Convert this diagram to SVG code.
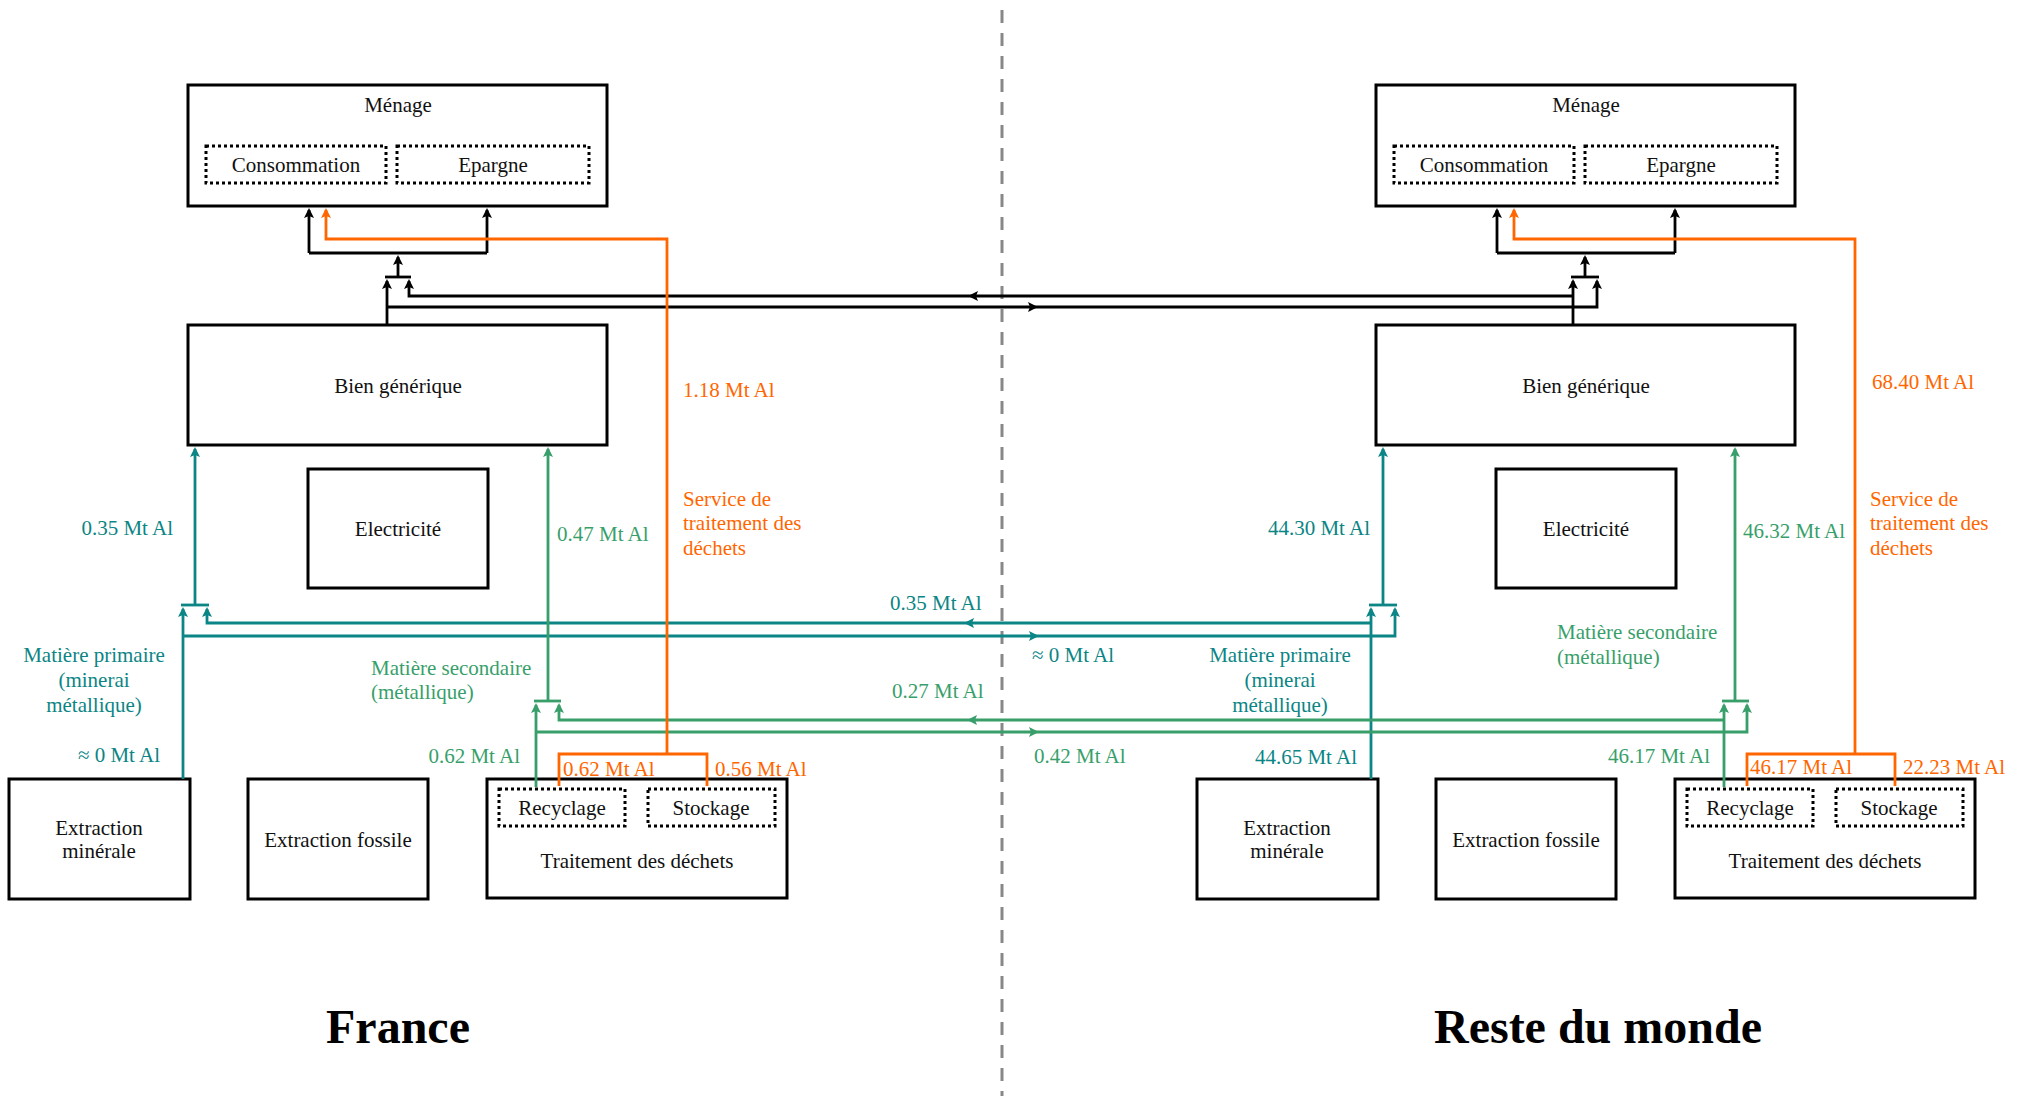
<svg xmlns="http://www.w3.org/2000/svg" xmlns:xlink="http://www.w3.org/1999/xlink" width="2026" height="1096" viewBox="0 0 2026 1096">
  <style>
    text { font-family: "Liberation Serif", "Times New Roman", serif; font-size: 21px; }
    .box { fill: #fff; stroke: #000; stroke-width: 3; }
    .sub { fill: none; stroke: #000; stroke-width: 3; stroke-dasharray: 3 3; }
    .lbl { fill: #111; text-anchor: middle; }
    .title { font-size: 48px; font-weight: bold; fill: #000; text-anchor: middle; }
    .c { fill: none; stroke-width: 2.8; stroke-linejoin: miter; }
    .cb { stroke: #000; }
    .ct { stroke: #0b8585; }
    .cg { stroke: #389f6b; }
    .co { stroke: #ff6600; }
    .tt { fill: #0b8585; }
    .tg { fill: #389f6b; }
    .to { fill: #ff6600; }
    .end { text-anchor: end; }
    .mid { text-anchor: middle; }
    .border { fill: none; stroke: #888; stroke-width: 3; stroke-dasharray: 13 10; }
  </style>
  <defs>
    <path id="ah" d="M0,0 L-10,-5 L-8,0 L-10,5 z"/>
    <marker id="mb" markerUnits="userSpaceOnUse" markerWidth="14" markerHeight="12" viewBox="-12 -6 14 12" refX="-2" refY="0" orient="auto">
      <use xlink:href="#ah" fill="#000"/>
    </marker>
    <marker id="mt" markerUnits="userSpaceOnUse" markerWidth="14" markerHeight="12" viewBox="-12 -6 14 12" refX="-2" refY="0" orient="auto">
      <use xlink:href="#ah" fill="#0b8585"/>
    </marker>
    <marker id="mg" markerUnits="userSpaceOnUse" markerWidth="14" markerHeight="12" viewBox="-12 -6 14 12" refX="-2" refY="0" orient="auto">
      <use xlink:href="#ah" fill="#389f6b"/>
    </marker>
    <marker id="mo" markerUnits="userSpaceOnUse" markerWidth="14" markerHeight="12" viewBox="-12 -6 14 12" refX="-2" refY="0" orient="auto">
      <use xlink:href="#ah" fill="#ff6600"/>
    </marker>
  </defs>

  <rect width="2026" height="1096" fill="#fff"/>

  <!-- border between the two regions -->
  <path class="border" d="M1002,10 V1096"/>

  <!-- ===== France ===== -->
  <g id="fr-menage">
    <rect class="box" x="188" y="85" width="419" height="121"/>
    <text class="lbl" x="398" y="112">Ménage</text>
    <rect class="sub" x="206" y="146" width="180" height="37"/>
    <text class="lbl" x="296" y="172">Consommation</text>
    <rect class="sub" x="397" y="146" width="192" height="37"/>
    <text class="lbl" x="493" y="172">Epargne</text>
  </g>
  <g id="fr-bien">
    <rect class="box" x="188" y="325" width="419" height="120"/>
    <text class="lbl" x="398" y="393">Bien générique</text>
  </g>
  <g id="fr-elec">
    <rect class="box" x="308" y="469" width="180" height="119"/>
    <text class="lbl" x="398" y="536">Electricité</text>
  </g>
  <g id="fr-extr-min">
    <rect class="box" x="9" y="779" width="181" height="120"/>
    <text class="lbl" x="99" y="835">Extraction</text>
    <text class="lbl" x="99" y="858">minérale</text>
  </g>
  <g id="fr-extr-fos">
    <rect class="box" x="248" y="779" width="180" height="120"/>
    <text class="lbl" x="338" y="847">Extraction fossile</text>
  </g>
  <g id="fr-dechets">
    <rect class="box" x="487" y="779" width="300" height="119"/>
    <rect class="sub" x="499" y="789" width="126" height="37"/>
    <text class="lbl" x="562" y="815">Recyclage</text>
    <rect class="sub" x="648" y="789" width="127" height="37"/>
    <text class="lbl" x="711" y="815">Stockage</text>
    <text class="lbl" x="637" y="868">Traitement des déchets</text>
  </g>

  <!-- ===== Reste du monde ===== -->
  <g id="rdm-menage">
    <rect class="box" x="1376" y="85" width="419" height="121"/>
    <text class="lbl" x="1586" y="112">Ménage</text>
    <rect class="sub" x="1394" y="146" width="180" height="37"/>
    <text class="lbl" x="1484" y="172">Consommation</text>
    <rect class="sub" x="1585" y="146" width="192" height="37"/>
    <text class="lbl" x="1681" y="172">Epargne</text>
  </g>
  <g id="rdm-bien">
    <rect class="box" x="1376" y="325" width="419" height="120"/>
    <text class="lbl" x="1586" y="393">Bien générique</text>
  </g>
  <g id="rdm-elec">
    <rect class="box" x="1496" y="469" width="180" height="119"/>
    <text class="lbl" x="1586" y="536">Electricité</text>
  </g>
  <g id="rdm-extr-min">
    <rect class="box" x="1197" y="779" width="181" height="120"/>
    <text class="lbl" x="1287" y="835">Extraction</text>
    <text class="lbl" x="1287" y="858">minérale</text>
  </g>
  <g id="rdm-extr-fos">
    <rect class="box" x="1436" y="779" width="180" height="120"/>
    <text class="lbl" x="1526" y="847">Extraction fossile</text>
  </g>
  <g id="rdm-dechets">
    <rect class="box" x="1675" y="779" width="300" height="119"/>
    <rect class="sub" x="1687" y="789" width="126" height="37"/>
    <text class="lbl" x="1750" y="815">Recyclage</text>
    <rect class="sub" x="1836" y="789" width="127" height="37"/>
    <text class="lbl" x="1899" y="815">Stockage</text>
    <text class="lbl" x="1825" y="868">Traitement des déchets</text>
  </g>

  <!-- ===== Connectors ===== -->
  <g id="connectors">
    <!-- goods flows, France -->
    <path class="c cb" d="M387,325 V281" marker-end="url(#mb)"/>
    <path class="c cb" d="M385,277 H411"/>
    <path class="c cb" d="M398,277 V257" marker-end="url(#mb)"/>
    <path class="c cb" d="M309,253 H487"/>
    <path class="c cb" d="M309,253 V210" marker-end="url(#mb)"/>
    <path class="c cb" d="M487,253 V210" marker-end="url(#mb)"/>
    <!-- goods flows, rest of world -->
    <path class="c cb" d="M1573,325 V281" marker-end="url(#mb)"/>
    <path class="c cb" d="M1571,277 H1599"/>
    <path class="c cb" d="M1585,277 V257" marker-end="url(#mb)"/>
    <path class="c cb" d="M1497,253 H1675"/>
    <path class="c cb" d="M1497,253 V210" marker-end="url(#mb)"/>
    <path class="c cb" d="M1675,253 V210" marker-end="url(#mb)"/>
    <!-- goods trade -->
    <path class="c cb" d="M1573,296 H409 V281" marker-end="url(#mb)"/>
    <path class="c cb" d="M387,307 H1597 V281" marker-end="url(#mb)"/>
    <use xlink:href="#ah" fill="#000" transform="translate(968,296) rotate(180)"/>
    <use xlink:href="#ah" fill="#000" transform="translate(1038,307)"/>

    <!-- primary material, France -->
    <path class="c ct" d="M183,779 V609" marker-end="url(#mt)"/>
    <path class="c ct" d="M181,605 H209"/>
    <path class="c ct" d="M195,605 V449" marker-end="url(#mt)"/>
    <!-- primary material, rest of world -->
    <path class="c ct" d="M1371,779 V609" marker-end="url(#mt)"/>
    <path class="c ct" d="M1369,605 H1397"/>
    <path class="c ct" d="M1383,605 V449" marker-end="url(#mt)"/>
    <!-- primary material trade -->
    <path class="c ct" d="M1371,623 H207 V609" marker-end="url(#mt)"/>
    <path class="c ct" d="M183,636 H1395 V609" marker-end="url(#mt)"/>
    <use xlink:href="#ah" fill="#0b8585" transform="translate(964,623) rotate(180)"/>
    <use xlink:href="#ah" fill="#0b8585" transform="translate(1039,636)"/>

    <!-- secondary material, France -->
    <path class="c cg" d="M536,787 V705" marker-end="url(#mg)"/>
    <path class="c cg" d="M534,701 H561"/>
    <path class="c cg" d="M548,701 V449" marker-end="url(#mg)"/>
    <!-- secondary material, rest of world -->
    <path class="c cg" d="M1724,787 V705" marker-end="url(#mg)"/>
    <path class="c cg" d="M1722,701 H1749"/>
    <path class="c cg" d="M1735,701 V449" marker-end="url(#mg)"/>
    <!-- secondary material trade -->
    <path class="c cg" d="M1724,720 H559 V705" marker-end="url(#mg)"/>
    <path class="c cg" d="M536,732 H1747 V705" marker-end="url(#mg)"/>
    <use xlink:href="#ah" fill="#389f6b" transform="translate(967,720) rotate(180)"/>
    <use xlink:href="#ah" fill="#389f6b" transform="translate(1039,732)"/>

    <!-- waste treatment service -->
    <path class="c co" d="M559,786 V754 H707 V786"/>
    <path class="c co" d="M667,754 V239 H326 V210" marker-end="url(#mo)"/>
    <path class="c co" d="M1747,786 V754 H1895 V786"/>
    <path class="c co" d="M1855,754 V239 H1514 V210" marker-end="url(#mo)"/>
  </g>

  <!-- ===== Flow labels ===== -->
  <g id="labels">
    <text class="tt end" x="173" y="535">0.35 Mt Al</text>
    <text class="tg" x="557" y="541">0.47 Mt Al</text>
    <text class="to" x="683" y="397">1.18 Mt Al</text>
    <text class="to" x="683" y="506">Service de</text>
    <text class="to" x="683" y="530">traitement des</text>
    <text class="to" x="683" y="555">déchets</text>
    <text class="tt mid" x="94" y="662">Matière primaire</text>
    <text class="tt mid" x="94" y="687">(minerai</text>
    <text class="tt mid" x="94" y="712">métallique)</text>
    <text class="tt end" x="160" y="762">≈ 0 Mt Al</text>
    <text class="tg" x="371" y="675">Matière secondaire</text>
    <text class="tg" x="371" y="699">(métallique)</text>
    <text class="tg end" x="520" y="763">0.62 Mt Al</text>
    <text class="to" x="563" y="776">0.62 Mt Al</text>
    <text class="to" x="715" y="776">0.56 Mt Al</text>

    <text class="tt" x="890" y="610">0.35 Mt Al</text>
    <text class="tt" x="1032" y="662">≈ 0 Mt Al</text>
    <text class="tg" x="892" y="698">0.27 Mt Al</text>
    <text class="tg" x="1034" y="763">0.42 Mt Al</text>

    <text class="tt end" x="1370" y="535">44.30 Mt Al</text>
    <text class="tg" x="1743" y="538">46.32 Mt Al</text>
    <text class="to" x="1872" y="389">68.40 Mt Al</text>
    <text class="to" x="1870" y="506">Service de</text>
    <text class="to" x="1870" y="530">traitement des</text>
    <text class="to" x="1870" y="555">déchets</text>
    <text class="tt mid" x="1280" y="662">Matière primaire</text>
    <text class="tt mid" x="1280" y="687">(minerai</text>
    <text class="tt mid" x="1280" y="712">métallique)</text>
    <text class="tt end" x="1357" y="764">44.65 Mt Al</text>
    <text class="tg" x="1557" y="639">Matière secondaire</text>
    <text class="tg" x="1557" y="664">(métallique)</text>
    <text class="tg end" x="1710" y="763">46.17 Mt Al</text>
    <text class="to" x="1750" y="774">46.17 Mt Al</text>
    <text class="to" x="1903" y="774">22.23 Mt Al</text>
  </g>

  <!-- region titles -->
  <text class="title" x="398" y="1043">France</text>
  <text class="title" x="1598" y="1043">Reste du monde</text>
</svg>
